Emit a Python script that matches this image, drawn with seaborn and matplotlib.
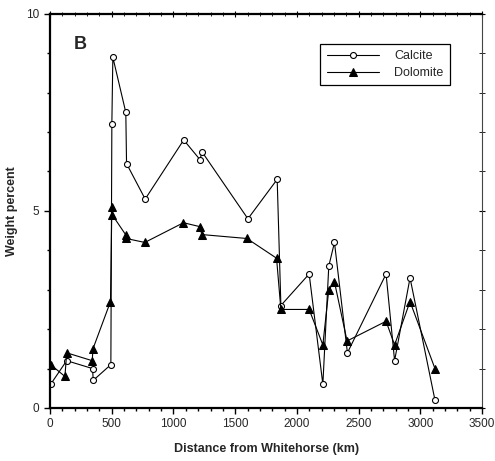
import numpy as np
import pandas as pd
import seaborn as sns
import matplotlib
matplotlib.use("Agg")
import matplotlib.pyplot as plt
from matplotlib.ticker import MultipleLocator

# distances (km) and weight percent
calcite_km = [5, 135, 345, 350, 493, 501, 509, 614, 620, 771, 1083, 1215, 1231,
              1603, 1840, 1870, 2099, 2210, 2258, 2304, 2409, 2722, 2791, 2916, 3118]
calcite_wt = [0.6, 1.2, 1.0, 0.7, 1.1, 7.2, 8.9, 7.5, 6.2, 5.3, 6.8, 6.3, 6.5,
              4.8, 5.8, 2.6, 3.4, 0.6, 3.6, 4.2, 1.4, 3.4, 1.2, 3.3, 0.2]

dolomite_km = [5, 121, 135, 342, 348, 490, 501, 504, 612, 617, 768, 1081, 1215, 1229,
               1595, 1835, 1870, 2099, 2210, 2258, 2304, 2406, 2722, 2791, 2916, 3118]
dolomite_wt = [1.1, 0.8, 1.4, 1.2, 1.5, 2.7, 5.1, 4.9, 4.4, 4.3, 4.2, 4.7, 4.6, 4.4,
               4.3, 3.8, 2.5, 2.5, 1.6, 3.0, 3.2, 1.7, 2.2, 1.6, 2.7, 1.0]

sns.set_style("ticks")
plt.rcParams["font.family"] = ["Liberation Sans", "DejaVu Sans"]

fig = plt.figure(figsize=(4.95, 4.61), dpi=100)
ax = fig.add_axes([0.101, 0.115, 0.873, 0.855])

sns.lineplot(x=calcite_km, y=calcite_wt, sort=False, ax=ax, color="black", lw=0.8,
             marker="o", markersize=4.3, markerfacecolor="white", markeredgecolor="black",
             markeredgewidth=0.8, label="Calcite")
sns.lineplot(x=dolomite_km, y=dolomite_wt, sort=False, ax=ax, color="black", lw=0.8,
             marker="^", markersize=6, markerfacecolor="black", markeredgecolor="black",
             label="Dolomite")

ax.set_xlim(0, 3500)
ax.set_ylim(0, 10)
ax.xaxis.set_major_locator(MultipleLocator(500))
ax.xaxis.set_minor_locator(MultipleLocator(100))
ax.yaxis.set_major_locator(MultipleLocator(5))
ax.yaxis.set_minor_locator(MultipleLocator(1))
ax.tick_params(which="both", direction="out", labelsize=8.5, width=1, color="black")
ax.tick_params(which="major", length=4)
ax.tick_params(which="minor", length=2.5)

for side in ["left", "bottom", "top"]:
    ax.spines[side].set_linewidth(1.6)
    ax.spines[side].set_color("black")
ax.spines["right"].set_linewidth(0.8)
ax.spines["right"].set_color("#444444")

top = ax.secondary_xaxis("top")
top.xaxis.set_major_locator(MultipleLocator(500))
top.xaxis.set_minor_locator(MultipleLocator(100))
top.tick_params(which="both", direction="inout", labeltop=False, color="black")
top.tick_params(which="major", length=5)
top.tick_params(which="minor", length=3)
top.spines["top"].set_visible(False)

right = ax.secondary_yaxis("right")
right.yaxis.set_major_locator(MultipleLocator(5))
right.yaxis.set_minor_locator(MultipleLocator(1))
right.tick_params(which="both", direction="inout", labelright=False, color="black")
right.tick_params(which="major", length=5)
right.tick_params(which="minor", length=4)
right.spines["right"].set_visible(False)

ax.set_xlabel("Distance from Whitehorse (km)", fontsize=9, fontweight="bold", labelpad=9)
ax.set_ylabel("Weight percent", fontsize=9, fontweight="bold", labelpad=6)
ax.text(0.055, 0.91, "B", transform=ax.transAxes, fontsize=13, fontweight="bold")

leg = ax.legend(loc="upper right", bbox_to_anchor=(0.925, 0.924), borderaxespad=0,
                fancybox=False, edgecolor="black", framealpha=1, fontsize=9,
                handlelength=4.2, borderpad=0.5, labelspacing=0.4, handletextpad=1.2)
leg.get_frame().set_linewidth(0.9)

fig.savefig("out.png", dpi=100)
